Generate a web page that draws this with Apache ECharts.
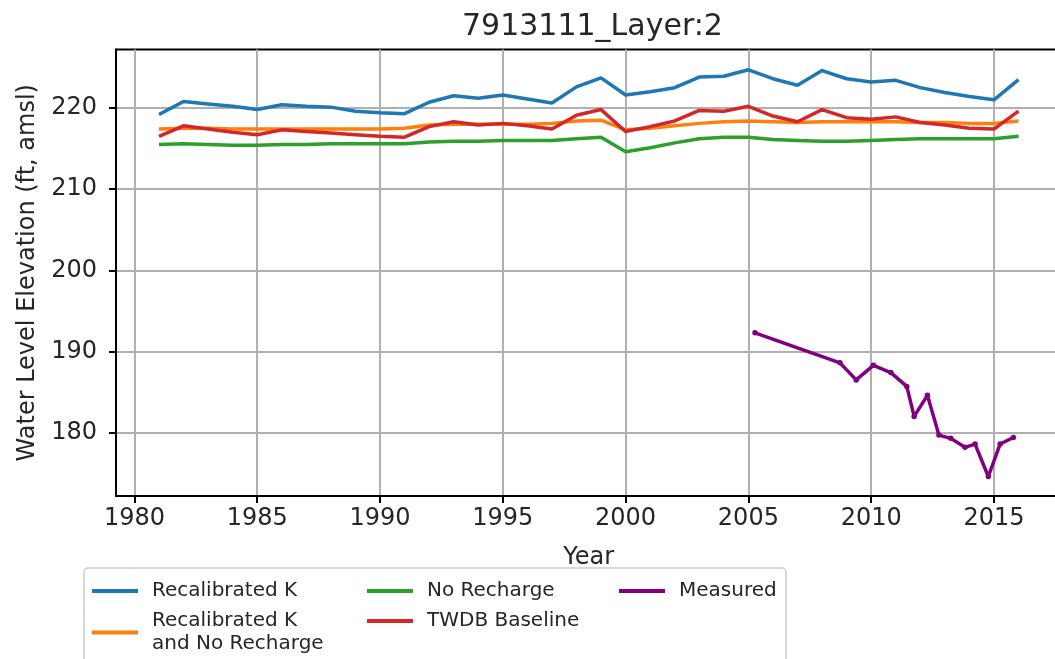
<!DOCTYPE html>
<html><head><meta charset="utf-8">
<script src="https://cdn.jsdelivr.net/npm/echarts@6/dist/echarts.min.js"></script>
<style>html,body{margin:0;padding:0;background:#fff}#c{width:1055px;height:659px}</style>
</head><body><div id="c"></div>
<script>
// ---- data ----
const years = [1981,1982,1983,1984,1985,1986,1987,1988,1989,1990,1991,1992,1993,1994,1995,1996,1997,1998,1999,2000,2001,2002,2003,2004,2005,2006,2007,2008,2009,2010,2011,2012,2013,2014,2015,2016];
const recalK = [219.2,220.8,220.5,220.2,219.8,220.4,220.2,220.1,219.6,219.4,219.3,220.7,221.5,221.2,221.6,221.1,220.6,222.6,223.7,221.6,222.0,222.5,223.8,223.9,224.7,223.6,222.8,224.6,223.6,223.2,223.4,222.5,221.9,221.4,221.0,223.5];
const recalKNoRecharge = [217.4,217.5,217.5,217.4,217.4,217.4,217.4,217.4,217.4,217.4,217.5,217.9,218.0,218.0,218.0,218.0,218.1,218.4,218.5,217.3,217.5,217.8,218.1,218.3,218.4,218.3,218.2,218.3,218.3,218.3,218.3,218.2,218.2,218.1,218.1,218.4];
const noRecharge = [215.5,215.6,215.5,215.4,215.4,215.5,215.5,215.6,215.6,215.6,215.6,215.8,215.9,215.9,216.0,216.0,216.0,216.2,216.4,214.6,215.1,215.7,216.2,216.4,216.4,216.1,216.0,215.9,215.9,216.0,216.1,216.2,216.2,216.2,216.2,216.5];
const twdbBaseline = [216.5,217.8,217.4,217.0,216.7,217.3,217.1,216.9,216.7,216.5,216.4,217.7,218.3,217.9,218.1,217.8,217.4,219.1,219.8,217.1,217.7,218.4,219.7,219.6,220.2,219.0,218.3,219.8,218.8,218.6,218.9,218.2,217.9,217.5,217.4,219.6];
const measuredYears = [2005.27,2008.73,2009.39,2010.09,2010.80,2011.45,2011.75,2012.29,2012.76,2013.24,2013.82,2014.23,2014.77,2015.25,2015.79];
const measuredValues = [192.3,188.6,186.5,188.3,187.4,185.7,182.0,184.6,179.7,179.3,178.2,178.6,174.6,178.6,179.4];
const xTicks = [1980,1985,1990,1995,2000,2005,2010,2015];
const yTicks = [180,190,200,210,220];
const seriesNames = ['Recalibrated K','Recalibrated K and No Recharge','No Recharge','TWDB Baseline','Measured'];

// ---- chart ----
const FONT = 'DejaVu Sans';
const TXT = '#262626';
const COLORS = ['#1f77b4','#ff7f0e','#2ca02c','#d62728','#800080'];
const pairs = (xs, ys) => xs.map((x, i) => [x, ys[i]]);
const chart = echarts.init(document.getElementById('c'), null, {renderer: 'canvas'});

function lineSeries(name, xs, ys, color, withSymbol) {
  return {
    name: name, type: 'line', data: pairs(xs, ys),
    showSymbol: !!withSymbol, symbol: 'circle', symbolSize: withSymbol ? 5.5 : 0,
    lineStyle: {color: color, width: 3.5},
    itemStyle: {color: color},
    emphasis: {disabled: true}, silent: true, clip: true
  };
}
function legendAt(name, left, top, extra) {
  return Object.assign({
    data: [name], left: left, top: top, padding: 0, orient: 'vertical',
    icon: 'rect', itemWidth: 46, itemHeight: 4, selectedMode: false,
    textStyle: {fontFamily: FONT, fontSize: 20, color: TXT, padding: [0, 0, 0, 9]}
  }, extra || {});
}

const option = {
  animation: false,
  backgroundColor: '#fff',
  color: COLORS,
  title: {
    text: '7913111_Layer:2', left: 457, top: 7,
    textStyle: {fontFamily: FONT, fontSize: 30, fontWeight: 'normal', color: TXT}
  },
  grid: {left: 116, top: 49.5, width: 945.5, height: 446.5, outerBoundsMode: 'none', containLabel: false,
    show: true, borderColor: '#000', borderWidth: 2, backgroundColor: 'transparent'},
  xAxis: {
    type: 'value', min: 1979.25, max: 2017.75, minInterval: 5, maxInterval: 5,
    name: 'Year', nameLocation: 'middle', nameGap: 50,
    nameTextStyle: {fontFamily: FONT, fontSize: 24, color: TXT},
    axisLine: {lineStyle: {color: '#000', width: 2}},
    axisTick: {length: 7, lineStyle: {color: '#000', width: 2}, customValues: xTicks},
    axisLabel: {customValues: xTicks, formatter: v => String(v), fontFamily: FONT, fontSize: 24, color: TXT, margin: 11},
    splitLine: {show: true, lineStyle: {color: '#b0b0b0', width: 2}}
  },
  yAxis: {
    type: 'value', min: 172.2, max: 227.2, minInterval: 10, maxInterval: 10,
    name: 'Water Level Elevation (ft, amsl)', nameLocation: 'middle', nameGap: 76,
    nameTextStyle: {fontFamily: FONT, fontSize: 24, color: TXT},
    axisLine: {lineStyle: {color: '#000', width: 2}},
    axisTick: {length: 7, lineStyle: {color: '#000', width: 2}, customValues: yTicks},
    axisLabel: {customValues: yTicks, formatter: v => String(v), fontFamily: FONT, fontSize: 24, color: TXT, margin: 19},
    splitLine: {show: true, lineStyle: {color: '#b0b0b0', width: 2}}
  },
  graphic: [{
    type: 'rect', z: -1, silent: true,
    shape: {x: 84, y: 568, width: 702, height: 120, r: 4},
    style: {fill: '#fff', stroke: '#cccccc', lineWidth: 1.5}
  }],
  legend: [
    legendAt(seriesNames[0], 92, 581),
    legendAt(seriesNames[1], 92, 609, {formatter: () => 'Recalibrated K\nand No Recharge', textStyle: {fontFamily: FONT, fontSize: 20, color: TXT, lineHeight: 23.5, padding: [0, 0, 0, 9]}}),
    legendAt(seriesNames[2], 367, 581),
    legendAt(seriesNames[3], 367, 611),
    legendAt(seriesNames[4], 619, 581)
  ],
  series: [
    lineSeries(seriesNames[0], years, recalK, COLORS[0]),
    lineSeries(seriesNames[1], years, recalKNoRecharge, COLORS[1]),
    lineSeries(seriesNames[2], years, noRecharge, COLORS[2]),
    lineSeries(seriesNames[3], years, twdbBaseline, COLORS[3]),
    lineSeries(seriesNames[4], measuredYears, measuredValues, COLORS[4], true)
  ]
};
chart.setOption(option);
</script>
</body></html>
